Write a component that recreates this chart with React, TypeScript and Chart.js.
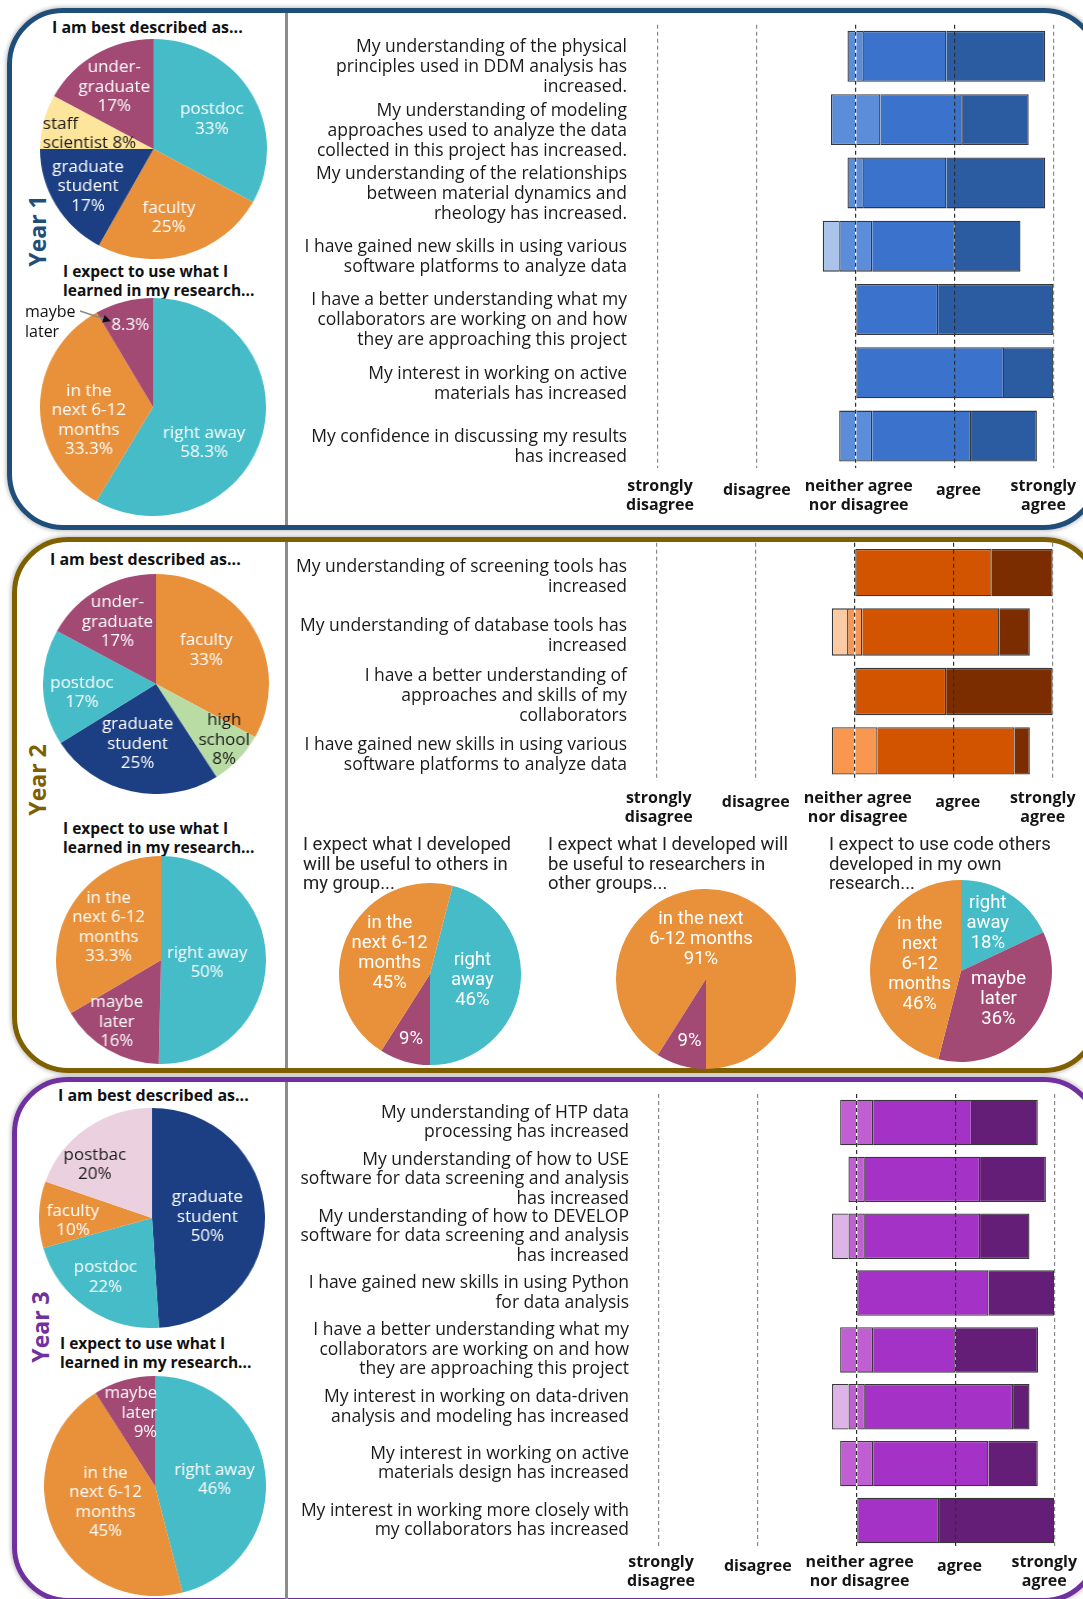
import React, { useEffect, useRef } from "react";
import { Chart, registerables } from "chart.js";
Chart.register(...registerables);

const FONT = "'Open Sans', 'Noto Sans', sans-serif";
const NARROW = "Roboto, 'Open Sans', sans-serif";
Chart.defaults.font.family = FONT;

// ---------------- data ----------------
const likertTickValues = [-100, -50, 0, 50, 100];
const likertTickLabels = [["strongly", "disagree"], ["disagree"], ["neither agree", "nor disagree"], ["agree"], ["strongly", "agree"]];

// Year 1
const y1RoleCategories = ["postdoc", "faculty", "graduate student", "staff scientist", "undergraduate"];
const y1RoleValues = [33, 25, 17, 8, 17];
const y1UseCategories = ["right away", "in the next 6-12 months", "maybe later"];
const y1UseValues = [58.3, 33.3, 8.3];
const y1Statements = [
  ["My understanding of the physical", "principles used in DDM analysis has", "increased."],
  ["My understanding of modeling", "approaches used to analyze the data", "collected in this project has increased."],
  ["My understanding of the relationships", "between material dynamics and", "rheology has increased."],
  ["I have gained new skills in using various", "software platforms to analyze data"],
  ["I have a better understanding what my", "collaborators are working on and how", "they are approaching this project"],
  ["My interest in working on active", "materials has increased"],
  ["My confidence in discussing my results", "has increased"],
];
const y1StronglyDisagree = [0, 0, 0, 0, 0, 0, 0];
const y1Disagree = [0, 0, 0, 8.3, 0, 0, 0];
const y1Neutral = [8.3, 25, 8.3, 16.7, 0, 0, 16.7];
const y1Agree = [41.7, 41.7, 41.7, 41.7, 41.7, 75, 50];
const y1StronglyAgree = [50, 33.3, 50, 33.3, 58.3, 25, 33.3];

// Year 2
const y2RoleCategories = ["faculty", "high school", "graduate student", "postdoc", "undergraduate"];
const y2RoleValues = [33, 8, 25, 17, 17];
const y2UseCategories = ["right away", "maybe later", "in the next 6-12 months"];
const y2UseValues = [50, 16, 33.3];
const y2Statements = [
  ["My understanding of screening tools has", "increased"],
  ["My understanding of database tools has", "increased"],
  ["I have a better understanding of", "approaches and skills of my", "collaborators"],
  ["I have gained new skills in using various", "software platforms to analyze data"],
];
const y2StronglyDisagree = [0, 0, 0, 0];
const y2Disagree = [0, 7.7, 0, 0];
const y2Neutral = [0, 7.7, 0, 23.1];
const y2Agree = [69.2, 69.2, 46.2, 69.2];
const y2StronglyAgree = [30.8, 15.4, 53.8, 7.7];
const y2GroupCategories = ["right away", "maybe later", "in the next 6-12 months"];
const y2GroupValues = [46, 9, 45];
const y2OtherCategories = ["in the next 6-12 months", "maybe later"];
const y2OtherValues = [91, 9];
const y2CodeCategories = ["right away", "maybe later", "in the next 6-12 months"];
const y2CodeValues = [18, 36, 46];

// Year 3
const y3RoleCategories = ["graduate student", "postdoc", "faculty", "postbac"];
const y3RoleValues = [50, 22, 10, 20];
const y3UseCategories = ["right away", "in the next 6-12 months", "maybe later"];
const y3UseValues = [46, 45, 9];
const y3Statements = [
  ["My understanding of HTP data", "processing has increased"],
  ["My understanding of how to USE", "software for data screening and analysis", "has increased"],
  ["My understanding of how to DEVELOP", "software for data screening and analysis", "has increased"],
  ["I have gained new skills in using Python", "for data analysis"],
  ["I have a better understanding what my", "collaborators are working on and how", "they are approaching this project"],
  ["My interest in working on data-driven", "analysis and modeling has increased"],
  ["My interest in working on active", "materials design has increased"],
  ["My interest in working more closely with", "my collaborators has increased"],
];
const y3StronglyDisagree = [0, 0, 0, 0, 0, 0, 0, 0];
const y3Disagree = [0, 0, 8.3, 0, 0, 8.3, 0, 0];
const y3Neutral = [16.7, 8.3, 8.3, 0, 16.7, 8.3, 16.7, 0];
const y3Agree = [50, 58.3, 58.3, 66.7, 41.7, 75, 58.3, 41.7];
const y3StronglyAgree = [33.3, 33.3, 25, 33.3, 41.7, 8.3, 25, 58.3];

// ---------------- styles ----------------
const C = {
  cyan: "#45BCC8", orange: "#E8913A", navy: "#1C3F84", yellow: "#FDE59B",
  magenta: "#A24A74", green: "#B9DBA4", pink: "#EBD0DF",
};
const W = "#ffffff";
const K = "#1a1a1a";
const BLUES = ["#A9C3EA", "#A9C3EA", "#5B8DD9", "#3A72CC", "#2B5CA2"];
const ORANGES = ["#FBCBA6", "#FBCBA6", "#F99650", "#D35400", "#7B2D00"];
const PURPLES = ["#DDB3E8", "#DDB3E8", "#BF5FD2", "#A532C6", "#641E77"];

// ---------------- plugins ----------------
const pieLabelPlugin = {
  id: "pieLabels",
  afterDatasetsDraw(chart: any, _args: any, opts: any) {
    const { ctx } = chart;
    const meta = chart.getDatasetMeta(0);
    const values = chart.data.datasets[0].data;
    ctx.save();
    ctx.font = opts.font;
    ctx.textBaseline = "middle";
    meta.data.forEach((arc: any, i: number) => {
      const p = arc.getProps(["x", "y", "startAngle", "endAngle", "outerRadius"], true);
      const mid = (p.startAngle + p.endAngle) / 2 + ((opts.offsets[i] || 0) * Math.PI) / 180;
      const r = p.outerRadius * opts.radii[i];
      const cx = p.x + Math.cos(mid) * r;
      const cy = p.y + Math.sin(mid) * r;
      const lines: string[] = opts.lines[i].map((s: string) => s.replace("{v}", String(values[i])));
      const widths = lines.map((l) => ctx.measureText(l).width);
      const maxW = Math.max(...widths);
      const align = (opts.aligns && opts.aligns[i]) || "center";
      ctx.fillStyle = opts.textColors[i];
      lines.forEach((l, j) => {
        const y = cy + (j - (lines.length - 1) / 2) * opts.lineHeight;
        let x = cx;
        ctx.textAlign = "center";
        if (align === "left") { x = cx - maxW / 2; ctx.textAlign = "left"; }
        if (align === "right") { x = cx + maxW / 2; ctx.textAlign = "right"; }
        ctx.fillText(l, x, y);
      });
    });
    ctx.restore();
  },
};

const likertAxisPlugin = {
  id: "likertAxis",
  afterDraw(chart: any, _args: any, opts: any) {
    const { ctx, chartArea } = chart;
    const xs = chart.scales.x;
    ctx.save();
    ctx.font = opts.font;
    ctx.fillStyle = "#151515";
    ctx.textAlign = "center";
    ctx.textBaseline = "middle";
    opts.values.forEach((v: number, i: number) => {
      const lines: string[] = opts.labels[i];
      const x = xs.getPixelForValue(v) + opts.dx[i];
      const cy = chartArea.bottom + opts.gap - (lines.length === 1 ? opts.singleLift : 0);
      lines.forEach((l, j) => ctx.fillText(l, x, cy + (j - (lines.length - 1) / 2) * opts.lineHeight));
    });
    ctx.restore();
  },
};

// ---------------- components ----------------
function Pie(props: any) {
  const { cx, cy, rx, ry, categories, values, colors, rotation = 0, lines, radii, offsets, textColors, aligns, font, lineHeight } = props;
  const ref = useRef<HTMLCanvasElement>(null);
  const size = Math.round(2 * ry);
  useEffect(() => {
    const chart = new Chart(ref.current as HTMLCanvasElement, {
      type: "pie",
      data: {
        labels: categories,
        datasets: [{ data: values, backgroundColor: colors, borderWidth: 0, hoverOffset: 0, hoverBorderWidth: 0 }],
      },
      options: {
        animation: false,
        responsive: false,
        rotation,
        events: [],
        layout: { padding: 0 },
        plugins: {
          legend: { display: false },
          tooltip: { enabled: false },
          pieLabels: { lines, radii, offsets, textColors, aligns, font, lineHeight },
        } as any,
      },
      plugins: [pieLabelPlugin as any],
    });
    return () => chart.destroy();
  }, []);
  return (
    <div style={{ position: "absolute", left: cx - rx, top: cy - ry, width: 2 * rx, height: size }}>
      <canvas
        ref={ref}
        width={size}
        height={size}
        style={{ width: size, height: size, display: "block", transform: `scaleX(${rx / ry})`, transformOrigin: "0 0" }}
      />
    </div>
  );
}

const CANVAS_LEFT = 290;
const CANVAS_WIDTH = 793;

function Likert(props: any) {
  const { canvasTop, canvasHeight, plotTop, plotBottom, sdPx, saPx, labelRight, labelOffset, statements, sd, d, n, a, sa, colors, gap, lineHeight, barPct } = props;
  const ref = useRef<HTMLCanvasElement>(null);
  useEffect(() => {
    const nz = (arr: number[]) => arr.map((v) => (v === 0 ? null : v));
    const border = "rgba(20,20,20,0.85)";
    const mk = (label: string, data: any[], color: string, skipped: any) => ({
      label, data, backgroundColor: color, borderColor: border, borderWidth: 1.3,
      borderSkipped: skipped, barPercentage: barPct, categoryPercentage: 1, stack: "s",
    });
    const chart = new Chart(ref.current as HTMLCanvasElement, {
      type: "bar",
      data: {
        labels: statements,
        datasets: [
          mk("neither agree nor disagree (left half)", nz(n.map((v: number) => -v / 2)), colors[2], "start"),
          mk("disagree", nz(d.map((v: number) => -v)), colors[1], "start"),
          mk("strongly disagree", nz(sd.map((v: number) => -v)), colors[0], "start"),
          mk("neither agree nor disagree (right half)", nz(n.map((v: number) => v / 2)), colors[2], "start"),
          mk("agree", nz(a), colors[3], (ctx: any) => (n[ctx.dataIndex] ? "start" : false)),
          mk("strongly agree", nz(sa), colors[4], "start"),
        ] as any,
      },
      options: {
        indexAxis: "y",
        animation: false,
        responsive: false,
        events: [],
        layout: {
          padding: {
            left: 0,
            top: plotTop - canvasTop,
            bottom: canvasTop + canvasHeight - plotBottom,
            right: CANVAS_LEFT + CANVAS_WIDTH - saPx,
          },
        },
        scales: {
          x: {
            type: "linear",
            stacked: true,
            min: -100,
            max: 100,
            ticks: { display: false, stepSize: 50 },
            grid: {
              z: 1,
              drawTicks: false,
              lineWidth: 1.2,
              color: (ctx: any) => (ctx.tick && (ctx.tick.value === 0 || ctx.tick.value === 50) ? "#2e2e2e" : "#8a8a8a"),
            },
            border: { display: false, dash: [4, 3] },
          },
          y: {
            type: "category",
            stacked: true,
            grid: { display: false, drawTicks: false },
            border: { display: false },
            ticks: {
              autoSkip: false,
              color: "#1a1a1a",
              padding: sdPx - labelRight,
              labelOffset,
              font: { family: FONT, size: 17.5, lineHeight },
            },
            afterFit: (s: any) => {
              s.width = sdPx - CANVAS_LEFT;
              s.paddingTop = 0;
              s.paddingBottom = 0;
            },
          },
        } as any,
        plugins: {
          legend: { display: false },
          tooltip: { enabled: false },
          likertAxis: {
            values: likertTickValues,
            labels: likertTickLabels,
            dx: [2, 0, 3, 4, -10],
            gap,
            singleLift: 5,
            lineHeight: 19,
            font: `bold 16px ${FONT}`,
          },
        } as any,
      },
      plugins: [likertAxisPlugin as any],
    });
    return () => chart.destroy();
  }, []);
  return (
    <canvas
      ref={ref}
      width={CANVAS_WIDTH}
      height={canvasHeight}
      style={{ position: "absolute", left: CANVAS_LEFT, top: canvasTop, width: CANVAS_WIDTH, height: canvasHeight, display: "block" }}
    />
  );
}

function Text({ left, top, lines, size = 15, weight = 400, lh = 19, family = FONT, color = "#111" }: any) {
  return (
    <div style={{ position: "absolute", left, top, fontSize: size, fontWeight: weight, lineHeight: `${lh}px`, fontFamily: family, color, whiteSpace: "nowrap" }}>
      {lines.map((l: string, i: number) => (
        <div key={i}>{l}</div>
      ))}
    </div>
  );
}

function YearLabel({ cx, cy, text, color }: any) {
  return (
    <div style={{ position: "absolute", left: cx, top: cy, transform: "translate(-50%, -50%) rotate(-90deg)", fontSize: 23, fontWeight: 700, color, whiteSpace: "nowrap", fontFamily: FONT, lineHeight: "26px" }}>
      {text}
    </div>
  );
}

function Panel({ left, top, bottom, color }: any) {
  return (
    <div style={{ position: "absolute", left, top, width: 1100 - left, height: bottom - top, border: `5px solid ${color}`, borderRadius: 56, boxSizing: "border-box", boxShadow: "0 0 4px 1px rgba(0,0,0,0.28)" }} />
  );
}

function Divider({ top, bottom }: any) {
  return <div style={{ position: "absolute", left: 285, top, width: 3, height: bottom - top, background: "#8c8c8c" }} />;
}

const BIG = `16.5px ${FONT}`;
const SMALL = `18.5px ${NARROW}`;
const T1 = 16;
const T2 = 15.5;

export default function App() {
  return (
    <div style={{ position: "absolute", left: 0, top: 0, width: 1083, height: 1599, overflow: "hidden", background: "#fff", fontFamily: FONT }}>
      <Panel left={7} top={8} bottom={530} color="#1F4E79" />
      <Panel left={12} top={537} bottom={1073} color="#7F6000" />
      <Panel left={12} top={1077} bottom={1603} color="#7030A0" />
      <Divider top={13} bottom={525} />
      <Divider top={542} bottom={1068} />
      <Divider top={1082} bottom={1599} />

      {/* ---------- Year 1 ---------- */}
      <YearLabel cx={37} cy={231} text="Year 1" color="#1F4E79" />
      <Text left={52} top={18} lines={["I am best described as..."]} size={T1} weight={700} lh={18} />
      <Pie cx={153.5} cy={149} rx={113.5} ry={110} categories={y1RoleCategories} values={y1RoleValues}
        colors={[C.cyan, C.orange, C.navy, C.yellow, C.magenta]}
        lines={[["postdoc", "{v}%"], ["faculty", "{v}%"], ["graduate", "student", "{v}%"], ["staff", "scientist {v}%"], ["under-", "graduate", "{v}%"]]}
        radii={[0.58, 0.64, 0.67, 0.58, 0.66]} offsets={[3, 4, 0, -0.7, -1]} textColors={[W, W, W, K, W]}
        aligns={["center", "center", "center", "left", "center"]} font={BIG} lineHeight={19.5} />
      <Text left={63} top={262} lines={["I expect to use what I", "learned in my research..."]} size={T2} weight={700} lh={18.5} />
      <Pie cx={153} cy={407} rx={113} ry={109} categories={y1UseCategories} values={y1UseValues}
        colors={[C.cyan, C.orange, C.magenta]}
        lines={[["right away", "{v}%"], ["in the", "next 6-12", "months", "{v}%"], ["{v}%"]]}
        radii={[0.56, 0.58, 0.78]} offsets={[21, -12, 0]} textColors={[W, W, W]} font={BIG} lineHeight={19.5} />
      <Text left={25} top={302} lines={["maybe", "later"]} size={16} lh={19.5} />
      <svg style={{ position: "absolute", left: 0, top: 0 }} width={200} height={400}>
        <defs>
          <marker id="arrowHead" markerWidth="8" markerHeight="8" refX="7" refY="4" orient="auto" markerUnits="userSpaceOnUse">
            <path d="M0,0 L8,4 L0,8 z" fill="#111" />
          </marker>
        </defs>
        <line x1={80} y1={311} x2={110} y2={321} stroke="#8a8a8a" strokeWidth={1.5} markerEnd="url(#arrowHead)" />
      </svg>
      <Likert canvasTop={12} canvasHeight={515} plotTop={24.7} plotBottom={467.7} sdPx={658} saPx={1053.4}
        labelRight={627} labelOffset={11} statements={y1Statements} sd={y1StronglyDisagree} d={y1Disagree}
        n={y1Neutral} a={y1Agree} sa={y1StronglyAgree} colors={BLUES} gap={28} lineHeight="20px" barPct={0.805} />

      {/* ---------- Year 2 ---------- */}
      <YearLabel cx={37} cy={780} text="Year 2" color="#7F6000" />
      <Text left={50} top={550} lines={["I am best described as..."]} size={T1} weight={700} lh={18} />
      <Pie cx={155.5} cy={684} rx={113} ry={110} categories={y2RoleCategories} values={y2RoleValues}
        colors={[C.orange, C.green, C.navy, C.cyan, C.magenta]}
        lines={[["faculty", "{v}%"], ["high", "school", "{v}%"], ["graduate", "student", "{v}%"], ["postdoc", "{v}%"], ["under-", "graduate", "{v}%"]]}
        radii={[0.54, 0.79, 0.57, 0.66, 0.66]} offsets={[-4, -3, 4, -5, -0.6]} textColors={[W, K, W, W, W]} font={BIG} lineHeight={19.5} />
      <Text left={63} top={819} lines={["I expect to use what I", "learned in my research..."]} size={T2} weight={700} lh={18.5} />
      <Pie cx={161} cy={960} rx={105} ry={104} categories={y2UseCategories} values={y2UseValues}
        colors={[C.cyan, C.magenta, C.orange]}
        lines={[["right away", "{v}%"], ["maybe", "later", "{v}%"], ["in the", "next 6-12", "months", "{v}%"]]}
        radii={[0.44, 0.73, 0.59]} offsets={[3, 5, 2.6]} textColors={[W, W, W]} font={BIG} lineHeight={19.5} />
      <Likert canvasTop={540} canvasHeight={296} plotTop={542.8} plotBottom={780.7} sdPx={656.7} saPx={1052.7}
        labelRight={627} labelOffset={4.5} statements={y2Statements} sd={y2StronglyDisagree} d={y2Disagree}
        n={y2Neutral} a={y2Agree} sa={y2StronglyAgree} colors={ORANGES} gap={27} lineHeight="20px" barPct={0.795} />

      <Text left={303} top={835} lines={["I expect what I developed", "will be useful to others in", "my group..."]} size={18.5} lh={19.5} family={NARROW} color="#222" />
      <Pie cx={430} cy={974} rx={91} ry={91} categories={y2GroupCategories} values={y2GroupValues} rotation={14.4}
        colors={[C.cyan, C.magenta, C.orange]}
        lines={[["right", "away", "{v}%"], ["{v}%"], ["in the", "next 6-12", "months", "{v}%"]]}
        radii={[0.47, 0.75, 0.5]} offsets={[1, 0, 4]} textColors={[W, W, W]} font={SMALL} lineHeight={20} />
      <Text left={548} top={835} lines={["I expect what I developed will", "be useful to researchers in", "other groups..."]} size={18.5} lh={19.5} family={NARROW} color="#222" />
      <Pie cx={706} cy={979} rx={90} ry={90} categories={y2OtherCategories} values={y2OtherValues} rotation={212.4}
        colors={[C.orange, C.magenta]}
        lines={[["in the next", "6-12 months", "{v}%"], ["{v}%"]]}
        radii={[0.44, 0.72]} offsets={[-23.5, -1.5]} textColors={[W, W]} font={SMALL} lineHeight={20} />
      <Text left={829} top={835} lines={["I expect to use code others", "developed in my own", "research..."]} size={18.5} lh={19.5} family={NARROW} color="#222" />
      <Pie cx={961} cy={971} rx={91} ry={91} categories={y2CodeCategories} values={y2CodeValues}
        colors={[C.cyan, C.magenta, C.orange]}
        lines={[["right", "away", "{v}%"], ["maybe", "later", "{v}%"], ["in the", "next", "6-12", "months", "{v}%"]]}
        radii={[0.6, 0.52, 0.46]} offsets={[-3, -2, 2]} textColors={[W, W, W]} font={SMALL} lineHeight={20} />

      {/* ---------- Year 3 ---------- */}
      <YearLabel cx={40} cy={1327} text="Year 3" color="#7030A0" />
      <Text left={58} top={1086} lines={["I am best described as..."]} size={T1} weight={700} lh={18} />
      <Pie cx={152} cy={1218} rx={113} ry={110} categories={y3RoleCategories} values={y3RoleValues}
        colors={[C.navy, C.cyan, C.orange, C.pink]}
        lines={[["graduate", "student", "{v}%"], ["postdoc", "{v}%"], ["faculty", "{v}%"], ["postbac", "{v}%"]]}
        radii={[0.49, 0.68, 0.7, 0.7]} offsets={[1, 2, -4, -11]} textColors={[W, W, W, K]} font={BIG} lineHeight={19.5} />
      <Text left={60} top={1334} lines={["I expect to use what I", "learned in my research..."]} size={T2} weight={700} lh={19} />
      <Pie cx={155} cy={1486} rx={111} ry={110} categories={y3UseCategories} values={y3UseValues}
        colors={[C.cyan, C.orange, C.magenta]}
        lines={[["right away", "{v}%"], ["in the", "next 6-12", "months", "{v}%"], ["maybe", "later", "{v}%"]]}
        radii={[0.54, 0.47, 0.7]} offsets={[1, 5, -2]} textColors={[W, W, W]}
        aligns={["center", "center", "right"]} font={BIG} lineHeight={19.5} />
      <Likert canvasTop={1082} canvasHeight={515} plotTop={1094.1} plotBottom={1548.9} sdPx={659} saPx={1054.3}
        labelRight={629} labelOffset={0} statements={y3Statements} sd={y3StronglyDisagree} d={y3Disagree}
        n={y3Neutral} a={y3Agree} sa={y3StronglyAgree} colors={PURPLES} gap={23} lineHeight="19.5px" barPct={0.8} />
    </div>
  );
}
